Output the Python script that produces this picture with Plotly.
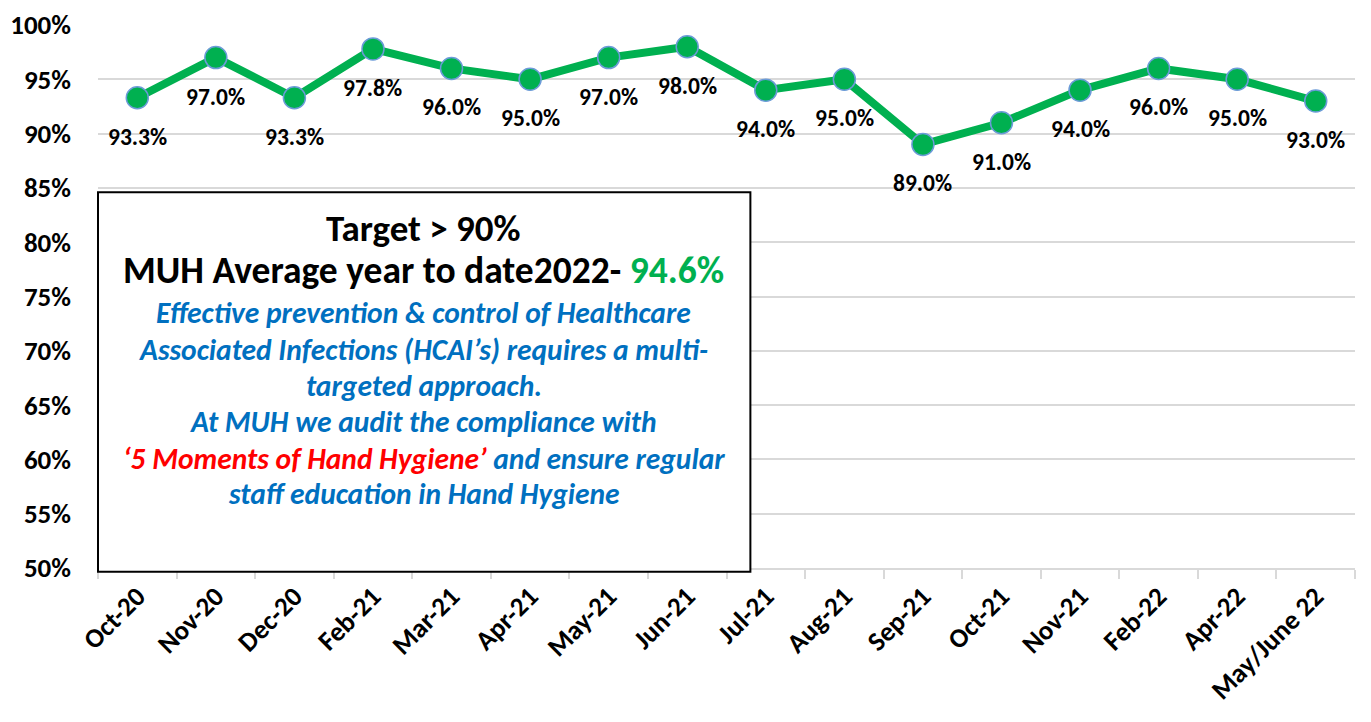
import plotly.graph_objects as go

months = ["Oct-20", "Nov-20", "Dec-20", "Feb-21", "Mar-21", "Apr-21", "May-21", "Jun-21",
          "Jul-21", "Aug-21", "Sep-21", "Oct-21", "Nov-21", "Feb-22", "Apr-22", "May/June 22"]
compliance = [93.3, 97.0, 93.3, 97.8, 96.0, 95.0, 97.0, 98.0,
              94.0, 95.0, 89.0, 91.0, 94.0, 96.0, 95.0, 93.0]
y_ticks = list(range(50, 101, 5))

FONT = "Carlito, Calibri, Lato, 'Open Sans', sans-serif"
GREEN = "#00B050"
BLUE = "#0070C0"

fig = go.Figure()
fig.add_trace(go.Scatter(
    x=months, y=compliance, mode="lines+markers",
    line=dict(color=GREEN, width=8),
    marker=dict(size=22, color=GREEN, line=dict(color="#6C9BD8", width=1.5)),
    showlegend=False, hoverinfo="skip",
))

for m, v in zip(months, compliance):
    fig.add_annotation(x=m, y=v, text=f"<b>{v:.1f}%</b>", showarrow=False,
                       yshift=-39, font=dict(family=FONT, size=23.5, color="black"))

# text box
fig.add_shape(type="rect", xref="paper", yref="paper", x0=0.0, x1=0.519, y0=-0.007, y1=0.692,
              line=dict(color="black", width=2), fillcolor="white", layer="above")

box_cx = 0.259
top_pg, bottom_pg = 25, 568
lines = [
    ("<b>Target &gt; 90%</b>", 228, 37, "black"),
    ("<b>MUH Average year to date2022- <span style='color:#00B050'>94.6%</span></b>", 270, 37.5, "black"),
    ("<b><i>Effective prevention &amp; control of Healthcare</i></b>", 313, 29.5, BLUE),
    ("<b><i>Associated Infections (HCAI’s) requires a multi-</i></b>", 350, 29.5, BLUE),
    ("<b><i>targeted approach.</i></b>", 386, 29.5, BLUE),
    ("<b><i>At MUH we audit the compliance with</i></b>", 422, 29.5, BLUE),
    ("<b><i><span style='color:#FF0000'>‘5 Moments of Hand Hygiene’</span> and ensure regular</i></b>", 459, 29.5, BLUE),
    ("<b><i>staff education in Hand Hygiene</i></b>", 494, 29.5, BLUE),
]
for txt, ypx, size, col in lines:
    yp = (bottom_pg - ypx) / (bottom_pg - top_pg)
    fig.add_annotation(xref="paper", yref="paper", x=box_cx, y=yp, text=txt, showarrow=False,
                       xanchor="center", yanchor="middle",
                       font=dict(family=FONT, size=size, color=col))

fig.update_layout(
    width=1355, height=706,
    margin=dict(l=90, r=8, t=17, b=146, autoexpand=False),
    plot_bgcolor="white", paper_bgcolor="white",
    font=dict(family=FONT, color="black"),
)
fig.update_xaxes(
    type="category", range=[-0.5, 15.5], showgrid=False, automargin=False,
    showline=True, linecolor="#D9D9D9", linewidth=2,
    ticks="outside", tickson="boundaries", ticklen=9, tickcolor="#D9D9D9", tickwidth=2,
    tickangle=-45, tickfont=dict(family=FONT, size=27, color="black"),
    tickvals=months, ticktext=[f"<b>{m}</b>" for m in months],
)
fig.update_yaxes(
    range=[50, 100], tickvals=y_ticks, ticktext=[f"<b>{t}%</b>" for t in y_ticks],
    showgrid=True, gridcolor="#D9D9D9", gridwidth=2, zeroline=False, showline=False,
    automargin=False,
    ticks="", ticklabelstandoff=26, tickfont=dict(family=FONT, size=27, color="black"),
)

fig.write_html("out.html")
